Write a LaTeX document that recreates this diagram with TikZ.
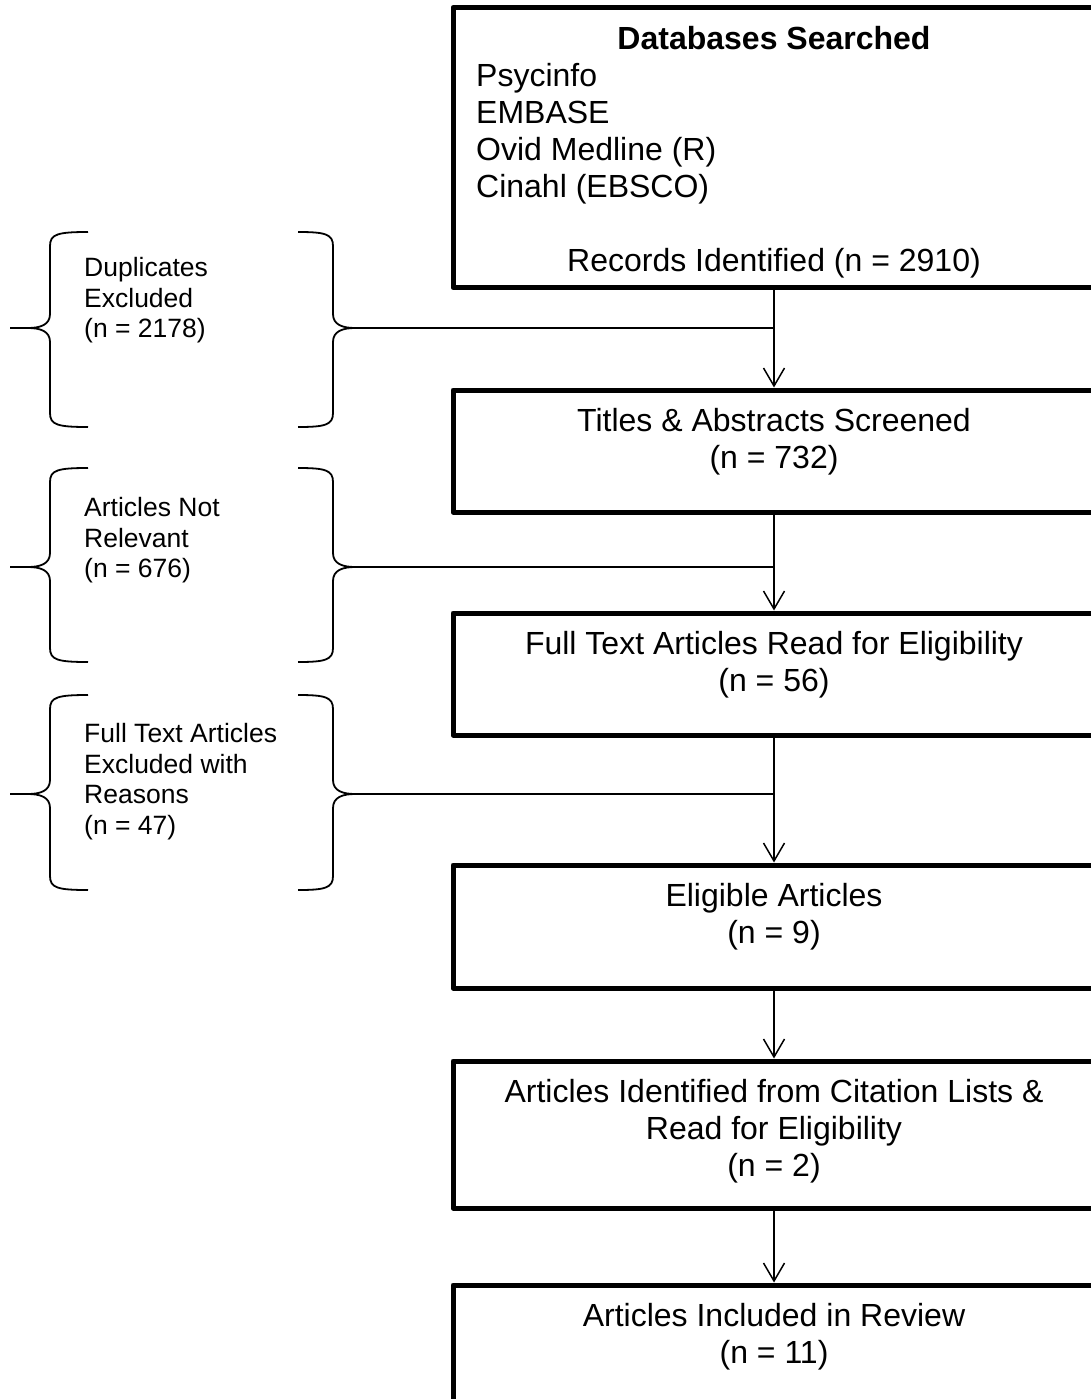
\documentclass[tikz,border=0pt]{standalone}
\usepackage{fontspec}
\setmainfont{Liberation Sans}
\usetikzlibrary{arrows.meta,positioning}

\begin{document}
\begin{tikzpicture}[x=1pt,y=-1pt,
      flow box/.style={draw,line width=5pt,line join=round,minimum width=642pt,inner sep=0pt},
      box text/.style={font=\fontsize{32}{37}\selectfont,align=center,inner sep=0pt},
      brace text/.style={font=\fontsize{26.5}{30.5}\selectfont,align=left,inner sep=0pt,anchor=north west},
      brace line/.style={line width=1.8pt},
      flow line/.style={line width=1.5pt},
      flow arrow/.style={flow line,-{Straight Barb[length=18pt,width=21pt]}}]

      \fill[white] (0,0) rectangle (1090,1399);
      \useasboundingbox (0,0) rectangle (1090,1399);

      % main column
      \node[flow box,minimum height=280pt] (dbs) at (774,147.5) {};
      \node[flow box,minimum height=122pt] (screen) at (774,451) {};
      \node[flow box,minimum height=122pt] (fulltext) at (774,674) {};
      \node[flow box,minimum height=123pt] (eligible) at (774,926.5) {};
      \node[flow box,minimum height=147pt] (citation) at (774,1134.5) {};
      \node[flow box,minimum height=123pt] (included) at (774,1346.5) {};

      \node[box text,font=\fontsize{32}{37}\selectfont\bfseries,below=21pt of dbs.north] (dbsTitle) {Databases Searched};
      \node[box text,align=left,anchor=north west] (dbsList) at ([xshift=25.5pt,yshift=-58pt]dbs.north west)
        {Psycinfo\\EMBASE\\Ovid Medline (R)\\Cinahl (EBSCO)};
      \node[box text,below=243pt of dbs.north] (dbsRecords) {Records Identified (n = 2910)};
      \node[box text,below=21pt of screen.north] (screenTxt) {Titles \& Abstracts Screened\\(n = 732)};
      \node[box text,below=21pt of fulltext.north] (fulltextTxt) {Full Text Articles Read for Eligibility\\(n = 56)};
      \node[box text,below=21pt of eligible.north] (eligibleTxt) {Eligible Articles\\(n = 9)};
      \node[box text,below=21pt of citation.north] (citationTxt) {Articles Identified from Citation Lists \&\\Read for Eligibility\\(n = 2)};
      \node[box text,below=21pt of included.north] (includedTxt) {Articles Included in Review\\(n = 11)};

      % exclusions
      \node[brace text] (dupTxt) at (84,257.5) {Duplicates\\Excluded\\(n = 2178)};
      \node[brace text] (relTxt) at (84,497.5) {Articles Not\\Relevant\\(n = 676)};
      \node[brace text] (reasonTxt) at (84,723.5) {Full Text Articles\\Excluded with\\Reasons\\(n = 47)};

      \foreach \ya/\ym/\yb [count=\i] in {232/328/427, 468/567/662, 695/794/890} {
        \draw[brace line] (88,\ya) .. controls (58,\ya) and (50,\ya+2) .. (50,\ya+14) -- (50,\ym-14)
          .. controls (50,\ym-3) and (40,\ym) .. (28,\ym) -- (10,\ym);
        \draw[brace line] (10,\ym) -- (28,\ym) .. controls (40,\ym) and (50,\ym+3) .. (50,\ym+14)
          -- (50,\yb-14) .. controls (50,\yb-2) and (58,\yb) .. (88,\yb);
        \draw[brace line] (298,\ya) .. controls (325,\ya) and (333,\ya+2) .. (333,\ya+14) -- (333,\ym-14)
          .. controls (333,\ym-3) and (343,\ym) .. (355,\ym) -- (370,\ym);
        \draw[brace line] (370,\ym) -- (355,\ym) .. controls (343,\ym) and (333,\ym+3) .. (333,\ym+14)
          -- (333,\yb-14) .. controls (333,\yb-2) and (325,\yb) .. (298,\yb);
        \coordinate (tip\i) at (370,\ym);
      }

      % connectors
      \draw[flow arrow] (dbs.south) -- (screen.north);
      \draw[flow arrow] (screen.south) -- (fulltext.north);
      \draw[flow arrow] (fulltext.south) -- (eligible.north);
      \draw[flow arrow] (eligible.south) -- (citation.north);
      \draw[flow arrow] (citation.south) -- (included.north);
      \draw[flow line] (tip1) -- (tip1 -| dbs.south);
      \draw[flow line] (tip2) -- (tip2 -| screen.south);
      \draw[flow line] (tip3) -- (tip3 -| fulltext.south);
    \end{tikzpicture}
\end{document}
